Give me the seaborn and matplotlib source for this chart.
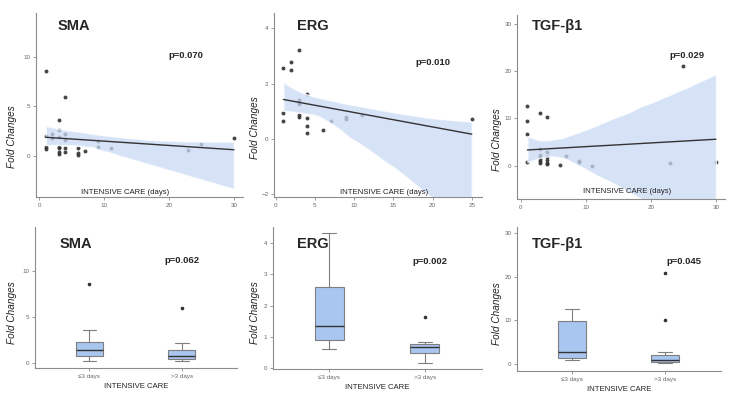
import matplotlib
matplotlib.use("Agg")
import matplotlib.pyplot as plt
import pandas as pd
import seaborn as sns

# scatter data (days in intensive care vs fold change)
sma_days = [1, 1, 1, 1, 2, 2, 3, 3, 3, 3, 3, 3, 3, 4, 4, 4, 4, 4, 6, 6, 6, 7, 9, 9, 11, 23, 25, 30]
sma_fold = [8.6, 1.95, 0.9, 0.7, 2.2, 1.77, 3.6, 2.57, 1.94, 0.9, 0.73, 0.38, 0.14,
            6.0, 2.2, 1.6, 0.73, 0.38, 0.83, 0.28, 0.1, 0.49, 1.49, 0.9, 0.8, 0.55, 1.2, 1.75]

erg_days = [1, 1, 1, 2, 2, 3, 3, 3, 3, 3, 3, 4, 4, 4, 4, 6, 7, 9, 9, 11, 25]
erg_fold = [2.57, 0.93, 0.63, 2.79, 2.5, 3.2, 1.42, 1.33, 1.26, 0.85, 0.79,
            1.64, 0.75, 0.47, 0.2, 0.33, 0.63, 0.79, 0.73, 0.85, 0.72]

tgf_days = [1, 1, 1, 1, 3, 3, 3, 3, 3, 3, 3, 4, 4, 4, 4, 4, 4, 6, 7, 9, 9, 11, 23, 25, 30]
tgf_fold = [12.6, 9.5, 6.8, 0.7, 11.05, 3.5, 2.25, 1.9, 1.4, 1.0, 0.6,
            10.2, 2.95, 1.9, 1.3, 0.5, 0.3, 0.2, 2.1, 1.0, 0.8, 0.0, 0.5, 21.0, 0.7]

# box data (<=3 days vs >3 days)
groups = ["≤3 days", ">3 days"]
sma_short = [0.18, 0.5, 0.79, 1.1, 1.37, 1.9, 2.3, 3.6, 8.63]
sma_long = [0.18, 0.3, 0.43, 0.6, 0.79, 1.0, 1.37, 2.16, 6.0]
erg_short = [0.63, 0.8, 0.9, 1.2, 1.35, 2.5, 2.6, 3.2, 4.3]
erg_long = [0.18, 0.33, 0.5, 0.63, 0.69, 0.73, 0.76, 0.83, 1.62]
tgf_short = [0.85, 1.0, 1.46, 1.9, 2.76, 6.8, 9.9, 11.05, 12.6]
tgf_long = [0.3, 0.35, 0.4, 0.46, 0.5, 0.7, 0.84, 1.0, 1.9, 2.15, 2.76, 10.1, 20.95]

titles = ["SMA", "ERG", "TGF-β1"]
p_scatter = ["p=0.070", "p=0.010", "p=0.029"]
p_box = ["p=0.062", "p=0.002", "p=0.045"]

BAND = "#c9daf5"
BOX = "#a9c6f1"
DARK = "#333333"
AXIS = "#8c8c8c"

sns.set_style("ticks")
plt.rcParams['font.family'] = ['Liberation Sans', 'DejaVu Sans']
plt.rcParams['axes.edgecolor'] = AXIS
plt.rcParams['axes.linewidth'] = 0.8
plt.rcParams['xtick.color'] = AXIS
plt.rcParams['ytick.color'] = AXIS
plt.rcParams['xtick.major.size'] = 2
plt.rcParams['ytick.major.size'] = 2
plt.rcParams['xtick.major.pad'] = 2
plt.rcParams['ytick.major.pad'] = 2
plt.rcParams['xtick.labelsize'] = 4.5
plt.rcParams['ytick.labelsize'] = 4.5


def pix_axes(fig, x0, y0, x1, y1):
    return fig.add_axes([x0 / 734, 1 - y1 / 400, (x1 - x0) / 734, (y1 - y0) / 400])


def style_axes(ax):
    sns.despine(ax=ax)
    ax.tick_params(labelcolor="#666666", width=0.6)


def scatter_panel(ax, days, fold, title, ptext, xlim, ylim, xticks, yticks, pos):
    sns.regplot(x=days, y=fold, ax=ax, color=BAND, seed=0,
                scatter_kws={'color': DARK, 's': 8, 'alpha': 0.9, 'linewidths': 0},
                line_kws={'lw': 1.0})
    ax.lines[0].set_color(DARK)
    ax.collections[1].set_facecolor(BAND)
    ax.collections[1].set_alpha(0.75)
    ax.set_xlim(*xlim)
    ax.set_ylim(*ylim)
    ax.set_xticks(xticks)
    ax.set_yticks(yticks)
    style_axes(ax)
    tx, ty, px, py, lx, ly, fx, fy = pos
    ax.text(tx, ty, title, transform=ax.transAxes, fontsize=10.5, fontweight='bold', va='center')
    ax.text(px, py, ptext, transform=ax.transAxes, fontsize=6.8, fontweight='bold', va='center')
    ax.text(lx, ly, "INTENSIVE CARE (days)", transform=ax.transAxes, fontsize=5.6,
            ha='center', va='center', color="#222222")
    ax.text(fx, fy, "Fold Changes", transform=ax.transAxes, fontsize=7.2, style='italic',
            rotation=90, ha='center', va='center', color="#222222")


def box_panel(ax, short, long_, title, ptext, ylim, yticks, pos):
    df = pd.DataFrame({'group': [groups[0]] * len(short) + [groups[1]] * len(long_),
                       'fold': short + long_})
    sns.boxplot(data=df, x='group', y='fold', order=groups, ax=ax, width=0.3,
                color=BOX, linecolor="#7f7f7f", linewidth=0.8, saturation=1,
                medianprops={'color': DARK, 'linewidth': 1.0},
                flierprops={'marker': 'o', 'markersize': 1.6, 'markerfacecolor': DARK,
                            'markeredgecolor': DARK})
    ax.set_xlim(-0.59, 1.6)
    ax.set_ylim(*ylim)
    ax.set_yticks(yticks)
    ax.set_ylabel("")
    ax.set_xlabel("INTENSIVE CARE", fontsize=5.6, color="#222222", labelpad=3)
    style_axes(ax)
    tx, ty, px, py, fx, fy = pos
    ax.text(tx, ty, title, transform=ax.transAxes, fontsize=10.5, fontweight='bold', va='center')
    ax.text(px, py, ptext, transform=ax.transAxes, fontsize=6.8, fontweight='bold', va='center')
    ax.text(fx, fy, "Fold Changes", transform=ax.transAxes, fontsize=7.2, style='italic',
            rotation=90, ha='center', va='center', color="#222222")


fig = plt.figure(figsize=(7.34, 4.0), dpi=100)

ax1 = pix_axes(fig, 36, 13, 243, 197)
scatter_panel(ax1, sma_days, sma_fold, titles[0], p_scatter[0], (-0.5, 31.4), (-4.2, 14.5),
              [0, 10, 20, 30], [0, 5, 10],
              (0.106, 0.93, 0.64, 0.77, 0.43, 0.027, -0.116, 0.33))

ax2 = pix_axes(fig, 274, 13, 482, 197)
scatter_panel(ax2, erg_days, erg_fold, titles[1], p_scatter[1], (-0.2, 26.3), (-2.1, 4.55),
              [0, 5, 10, 15, 20, 25], [-2, 0, 2, 4],
              (0.11, 0.93, 0.68, 0.73, 0.53, 0.027, -0.091, 0.375))

ax3 = pix_axes(fig, 517, 15, 725, 199)
scatter_panel(ax3, tgf_days, tgf_fold, titles[2], p_scatter[2], (-0.6, 31.4), (-7, 31.8),
              [0, 10, 20, 30], [0, 10, 20, 30],
              (0.072, 0.94, 0.735, 0.78, 0.53, 0.043, -0.096, 0.32))

ax4 = pix_axes(fig, 35, 227, 237, 368)
box_panel(ax4, sma_short, sma_long, titles[0], p_box[0], (-0.55, 14.8), [0, 5, 10],
          (0.12, 0.88, 0.64, 0.76, -0.114, 0.39))

ax5 = pix_axes(fig, 273, 227, 482, 369)
box_panel(ax5, erg_short, erg_long, titles[1], p_box[1], (-0.02, 4.5), [0, 1, 2, 3, 4],
          (0.115, 0.88, 0.665, 0.76, -0.086, 0.40))

ax6 = pix_axes(fig, 517, 227, 721, 371)
box_panel(ax6, tgf_short, tgf_long, titles[2], p_box[2], (-1.6, 31.4), [0, 10, 20, 30],
          (0.074, 0.88, 0.73, 0.76, -0.098, 0.40))

fig.savefig("out.png", dpi=100)
